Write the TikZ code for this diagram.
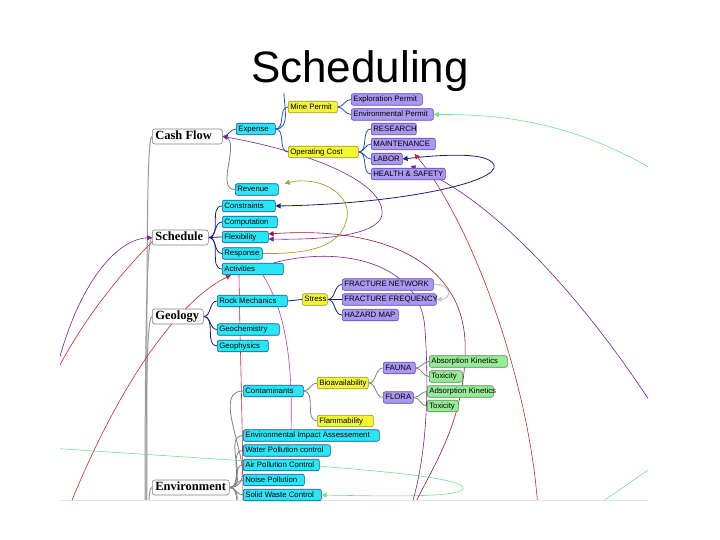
\documentclass[tikz,border=0pt]{standalone}
\usepackage{fontspec}
\setmainfont{Liberation Sans}
\newfontfamily\rootfont{Liberation Serif}
\usetikzlibrary{arrows.meta}
\pgfdeclarelayer{bg}
\pgfsetlayers{bg,main}
\definecolor{cyanf}{RGB}{40,230,245}
\definecolor{cyand}{RGB}{20,80,150}
\definecolor{yelf}{RGB}{245,245,50}
\definecolor{yeld}{RGB}{150,150,40}
\definecolor{purf}{RGB}{170,152,240}
\definecolor{purd}{RGB}{90,70,190}
\definecolor{grnf}{RGB}{152,236,152}
\definecolor{grnd}{RGB}{80,140,80}
\definecolor{navyc}{RGB}{20,30,120}
\definecolor{bluec}{RGB}{30,80,200}
\definecolor{lnkgreen}{RGB}{110,225,140}
\definecolor{lnkred}{RGB}{210,30,50}
\definecolor{lnkmaroon}{RGB}{150,20,50}
\definecolor{lnkpurple}{RGB}{120,30,150}
\definecolor{lnkmag}{RGB}{190,50,200}
\definecolor{lnkolive}{RGB}{160,160,40}
\newcommand\bx[6]{\node[#1] (#2) at (#3,#5) {\hbox to \dimexpr #4pt-#3pt-4pt\relax{#6\hss}};}
\newcommand\rx[5]{\node[rootbox] (#1) at (#2,#4) {\hbox to \dimexpr #3pt-#2pt-6pt\relax{#5\hss}};}
\tikzset{
  x=1pt, y=-1pt,
  smallbox/.style={anchor=west, inner xsep=2pt, inner ysep=0pt, minimum height=11.5pt,
    text height=6pt, text depth=1.8pt, rounded corners=2pt, line width=0.6pt,
    font=\fontsize{7.8}{9}\selectfont},
  cyn/.style={smallbox, fill=cyanf, draw=cyand},
  yel/.style={smallbox, fill=yelf, draw=yeld},
  pur/.style={smallbox, fill=purf, draw=purd},
  grn/.style={smallbox, fill=grnf, draw=grnd},
  rootbox/.style={anchor=west, draw=gray, fill=white, rounded corners=2.5pt, line width=0.6pt,
    inner xsep=3pt, inner ysep=0pt, minimum height=15pt, text height=8.5pt, text depth=2.5pt,
    font=\rootfont\bfseries\fontsize{12.5}{14}\selectfont},
  navyedge/.style={draw=navyc, line width=0.8pt},
  blueedge/.style={draw=bluec, line width=0.8pt},
  grayedge/.style={draw=gray, line width=0.8pt},
  rootl/.style={draw=gray!80, line width=1pt},
  tip/.style={-{Triangle[length=5pt,width=5pt]}},
  tips/.style={{Triangle[length=5pt,width=5pt]}-{Triangle[length=5pt,width=5pt]}},
  lnk/.style={line width=0.6pt},
}
\begin{document}
\begin{tikzpicture}
\useasboundingbox (0,0) rectangle (720,540);
\node[anchor=base, font=\fontsize{44}{50}\selectfont] (title) at (360,83) {Scheduling};

% root nodes
\rx{cf}{152}{222}{136.5}{Cash Flow}
\rx{sch}{152}{208}{237.5}{Schedule}
\rx{geo}{152}{203}{316.5}{Geology}
\rx{env}{152}{229}{487.5}{Environment}

% cash flow branch
\bx{cyn}{exp}{236}{275}{129}{Expense}
\bx{cyn}{rev}{235}{278}{189.5}{Revenue}
\bx{yel}{mine}{288}{337}{107}{Mine Permit}
\bx{yel}{op}{288}{358}{152}{Operating Cost}
\bx{pur}{expl}{351}{422}{99.5}{Exploration Permit}
\bx{pur}{envp}{351}{433}{114.5}{Environmental Permit}
\bx{pur}{res}{371}{416}{129}{RESEARCH}
\bx{pur}{mnt}{371}{435}{144}{MAINTENANCE}
\bx{pur}{lab}{371}{402}{159}{LABOR}
\bx{pur}{hs}{371}{445}{174}{HEALTH \& SAFETY}

% schedule branch
\bx{cyn}{con}{222}{275}{206}{Constraints}
\bx{cyn}{comp}{222}{277}{222}{Computation}
\bx{cyn}{flex}{222}{268}{237}{Flexibility}
\bx{cyn}{resp}{222}{262}{253.5}{Response}
\bx{cyn}{act}{222}{283}{269}{Activities}

% geology branch
\bx{cyn}{rock}{217}{287}{301}{Rock Mechanics}
\bx{cyn}{geoc}{217}{279}{329.5}{Geochemistry}
\bx{cyn}{geop}{217}{268}{346}{Geophysics}
\bx{yel}{stress}{302}{327}{299.5}{Stress}
\bx{pur}{fn}{342}{433}{284.5}{FRACTURE NETWORK}
\bx{pur}{ff}{342}{436}{299.5}{FRACTURE FREQUENCY}
\bx{pur}{hz}{342}{398}{315}{HAZARD MAP}

% environment branch
\bx{cyn}{cont}{243}{303}{391}{Contaminants}
\bx{yel}{bio}{317}{368}{383}{Bioavailability}
\bx{yel}{flam}{317}{373}{421}{Flammability}
\bx{pur}{fauna}{383}{415}{368}{FAUNA}
\bx{pur}{flora}{383}{413}{397.5}{FLORA}
\bx{grn}{abs}{429}{507}{361.5}{Absorption Kinetics}
\bx{grn}{tox1}{429}{462}{376.5}{Toxicity}
\bx{grn}{ads}{427}{493}{391.5}{Adsorption Kinetics}
\bx{grn}{tox2}{427}{458}{406}{Toxicity}
\bx{cyn}{eia}{243}{379}{435.5}{Environmental Impact Assessement}
\bx{cyn}{wat}{243}{330}{450.5}{Water Pollution control}
\bx{cyn}{air}{243}{319}{465}{Air Pollution Control}
\bx{cyn}{noi}{243}{304}{480}{Noise Pollution}
\bx{cyn}{sol}{243}{321}{495}{Solid Waste Control}

\coordinate (rootA) at (147,540);
\coordinate (rootB) at (145,540);
\coordinate (rootC) at (146,540);
\coordinate (rootD) at (149,540);

\begin{pgfonlayer}{bg}
\begin{scope}
\clip (60,94) rectangle (648,500);
% root connectors
\draw[rootl] (cf.west) .. controls +(-6,0) and +(0,-250) .. (rootA);
\draw[rootl] (sch.west) .. controls +(-6,0) and +(0,-180) .. (rootB);
\draw[rootl] (geo.west) .. controls +(-6,0) and +(0,-120) .. (rootC);
\draw[rootl] (env.west) .. controls +(-4,0) and +(0,-30) .. (rootD);
% tree edges
\draw[blueedge] (cf.east) to[out=0,in=180] (exp.west);
\draw[grayedge] (cf.east) to[out=0,in=180] (rev.west);
\draw[blueedge] (exp.east) to[out=0,in=180] (mine.west);
\draw[blueedge] (exp.east) to[out=0,in=180] (op.west);
\draw[blueedge] (exp.east) to[out=0,in=270] (284,92);
\foreach \n in {expl,envp} \draw[blueedge] (mine.east) to[out=0,in=180] (\n.west);
\foreach \n in {res,mnt,lab,hs} \draw[blueedge] (op.east) to[out=0,in=180] (\n.west);
\foreach \n in {con,comp,flex,resp,act} \draw[navyedge] (sch.east) to[out=0,in=180] (\n.west);
\foreach \n in {rock,geoc,geop} \draw[navyedge] (geo.east) to[out=0,in=180] (\n.west);
\draw[navyedge] (rock.east) -- (stress.west);
\foreach \n in {fn,ff,hz} \draw[navyedge] (stress.east) to[out=0,in=180] (\n.west);
\foreach \n in {cont,eia,wat,air,noi,sol} \draw[grayedge] (env.east) to[out=0,in=180] (\n.west);
\draw[grayedge] (env.east) to[out=0,in=180] (244,512);
\draw[grayedge] (env.east) to[out=0,in=180] (244,530);
\foreach \n in {bio,flam} \draw[grayedge] (cont.east) to[out=0,in=180] (\n.west);
\foreach \n in {fauna,flora} \draw[grayedge] (bio.east) to[out=0,in=180] (\n.west);
\foreach \n in {abs,tox1} \draw[grayedge] (fauna.east) to[out=0,in=180] (\n.west);
\foreach \n in {ads,tox2} \draw[grayedge] (flora.east) to[out=0,in=180] (\n.west);

% cross links
\draw[lnk, draw=lnkgreen, tip] (700,200) .. controls (600,128) and (520,114) .. (envp.east);
\draw[lnk, draw=lnkgreen] (590,510) .. controls (620,490) and (640,475) .. (660,462);
\draw[lnk, draw=lnkgreen, tip] (50,448) .. controls (250,462) and (470,472) .. (463,489)
   .. controls (458,498) and (380,496) .. (sol.east);
\draw[lnk, draw=navyc, line width=0.8pt, tips] (con.east) .. controls (400,204) and (500,182) .. (494,165)
   .. controls (488,150) and (430,156) .. (lab.east);
\draw[lnk, draw=lnkred, tip] (538,510) .. controls (530,380) and (470,220) .. ([xshift=12pt,yshift=-1pt]lab.north east);
\draw[lnk, draw=lnkmaroon, tip] (412,510) .. controls (430,470) and (468,420) .. (465,340)
   .. controls (460,260) and (380,226) .. ([yshift=3pt]flex.east);
\draw[lnk, draw=lnkpurple, tips] (cf.east) .. controls (300,150) and (386,180) .. (382,215)
   .. controls (378,236) and (320,240) .. ([yshift=-2pt]flex.east);
\draw[lnk, draw=lnkolive, line width=0.7pt, tip] (resp.east) .. controls (300,254) and (338,250) .. (346,222)
   .. controls (355,195) and (320,175) .. ([xshift=6pt]rev.north east);
\draw[lnk, draw=lnkpurple, tip] (665,425) .. controls (600,320) and (500,200) .. ([xshift=8pt,yshift=-1pt]lab.south east);
\draw[lnk, draw=lnkmag] ([xshift=10pt]act.south) .. controls (285,310) and (293,360) .. (291,430);
\draw[lnk, draw=lnkpurple] ([xshift=-10pt]act.north east) .. controls (340,245) and (422,262) .. (425,330)
   .. controls (430,400) and (425,465) .. (410,510);
\draw[lnk, draw=lnkpurple, tip] (50,400) .. controls (68,300) and (110,240) .. (sch.west);
\draw[lnk, draw=lnkred, tip] (50,385) .. controls (80,320) and (130,262) .. ([xshift=13pt]sch.north west);
\draw[lnk, draw=lnkred, tip] (68,510) .. controls (120,380) and (180,300) .. ([xshift=9pt]act.south west);
\draw[lnk, draw=lnkred] (239,275) .. controls (240,350) and (243,430) .. (243,510);
\draw[gray!45, line width=1.1pt, tip] (fn.east) .. controls (452,284) and (452,299) .. (ff.east);
\end{scope}
\draw[gray!20] (60,500) -- (648,500);
\end{pgfonlayer}
\end{tikzpicture}
\end{document}
